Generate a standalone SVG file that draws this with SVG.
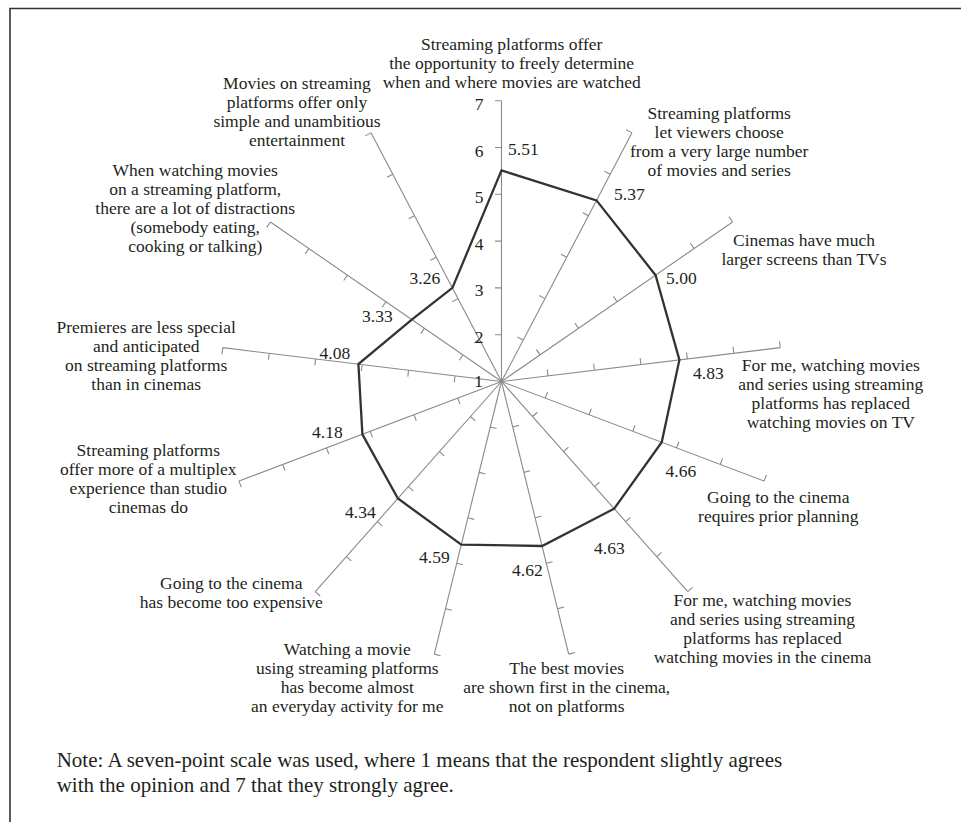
<svg xmlns="http://www.w3.org/2000/svg" xmlns:xlink="http://www.w3.org/1999/xlink" width="961" height="822" viewBox="0 0 961 822">
<style>
text{font-family:"Liberation Serif","Times New Roman",serif;fill:#231f20;}
.lab{font-size:17.5px;text-anchor:middle;}
.val{font-size:17.5px;}
.num{font-size:17.5px;text-anchor:end;}
.note{font-size:21px;}
.ax{fill:none;stroke:#8a8a8a;stroke-width:1.1;}
.ser{fill:none;stroke:#333;stroke-width:2.3;stroke-linejoin:miter;}
.frame{stroke:#333;stroke-width:1.6;fill:none;}
</style>
<defs>
<path id="axis" class="ax" d="M501.5 381.5V100.7M501.5 334.7H495M501.5 287.9H495M501.5 241.1H495M501.5 194.3H495M501.5 147.5H495M501.5 100.7H495"/>
</defs>
<rect width="961" height="822" fill="#fff"/>
<path class="frame" d="M10 822V8.5H961"/>

<g id="connectors">
<use xlink:href="#axis" href="#axis"/>
<use xlink:href="#axis" href="#axis" transform="rotate(27.692 501.5 381.5)"/>
<use xlink:href="#axis" href="#axis" transform="rotate(55.385 501.5 381.5)"/>
<use xlink:href="#axis" href="#axis" transform="rotate(83.077 501.5 381.5)"/>
<use xlink:href="#axis" href="#axis" transform="rotate(110.769 501.5 381.5)"/>
<use xlink:href="#axis" href="#axis" transform="rotate(138.462 501.5 381.5)"/>
<use xlink:href="#axis" href="#axis" transform="rotate(166.154 501.5 381.5)"/>
<use xlink:href="#axis" href="#axis" transform="rotate(193.846 501.5 381.5)"/>
<use xlink:href="#axis" href="#axis" transform="rotate(221.538 501.5 381.5)"/>
<use xlink:href="#axis" href="#axis" transform="rotate(249.231 501.5 381.5)"/>
<use xlink:href="#axis" href="#axis" transform="rotate(276.923 501.5 381.5)"/>
<use xlink:href="#axis" href="#axis" transform="rotate(304.615 501.5 381.5)"/>
<use xlink:href="#axis" href="#axis" transform="rotate(332.308 501.5 381.5)"/>
</g>

<g id="series">
<polygon class="ser" points="501.5,170.4 596.5,200.4 655.6,275.2 679.4,359.9 661.7,442.2 614.2,508.7 542.1,546.0 461.3,544.6 397.9,498.5 362.4,434.3 358.4,364.1 411.8,319.6 452.4,287.9"/>
</g>

<g id="scale">
<text class="num" x="483.5" y="110">7</text>
<text class="num" x="483.5" y="156.7">6</text>
<text class="num" x="483.5" y="203.3">5</text>
<text class="num" x="483.5" y="249.5">4</text>
<text class="num" x="483.5" y="296">3</text>
<text class="num" x="483.5" y="343.3">2</text>
<text class="num" x="483" y="387">1</text>
</g>

<g id="node-0">
<text class="lab" x="511.7" y="49.5"><tspan x="511.7">Streaming platforms offer</tspan><tspan x="511.7" dy="19">the opportunity to freely determine</tspan><tspan x="511.7" dy="19">when and where movies are watched</tspan></text>
<text class="val" x="508" y="155">5.51</text>
</g>
<g id="node-1">
<text class="lab" x="719.2" y="118.5"><tspan x="719.2">Streaming platforms</tspan><tspan x="719.2" dy="19">let viewers choose</tspan><tspan x="719.2" dy="19">from a very large number</tspan><tspan x="719.2" dy="19">of movies and series</tspan></text>
<text class="val" x="614" y="200">5.37</text>
</g>
<g id="node-2">
<text class="lab" x="804" y="246"><tspan x="804">Cinemas have much</tspan><tspan x="804" dy="19">larger screens than TVs</tspan></text>
<text class="val" x="666" y="284">5.00</text>
</g>
<g id="node-3">
<text class="lab" x="830.8" y="371"><tspan x="830.8">For me, watching movies</tspan><tspan x="830.8" dy="19">and series using streaming</tspan><tspan x="830.8" dy="19">platforms has replaced</tspan><tspan x="830.8" dy="19">watching movies on TV</tspan></text>
<text class="val" x="693" y="378.5">4.83</text>
</g>
<g id="node-4">
<text class="lab" x="778.3" y="503"><tspan x="778.3">Going to the cinema</tspan><tspan x="778.3" dy="19">requires prior planning</tspan></text>
<text class="val" x="665.5" y="477">4.66</text>
</g>
<g id="node-5">
<text class="lab" x="762.5" y="605.5"><tspan x="762.5">For me, watching movies</tspan><tspan x="762.5" dy="19">and series using streaming</tspan><tspan x="762.5" dy="19">platforms has replaced</tspan><tspan x="762.5" dy="19">watching movies in the cinema</tspan></text>
<text class="val" x="594" y="553.5">4.63</text>
</g>
<g id="node-6">
<text class="lab" x="566.7" y="674"><tspan x="566.7">The best movies</tspan><tspan x="566.7" dy="19">are shown first in the cinema,</tspan><tspan x="566.7" dy="19">not on platforms</tspan></text>
<text class="val" x="512" y="576">4.62</text>
</g>
<g id="node-7">
<text class="lab" x="347.3" y="655"><tspan x="347.3">Watching a movie</tspan><tspan x="347.3" dy="19">using streaming platforms</tspan><tspan x="347.3" dy="19">has become almost</tspan><tspan x="347.3" dy="19">an everyday activity for me</tspan></text>
<text class="val" x="419" y="563">4.59</text>
</g>
<g id="node-8">
<text class="lab" x="231.3" y="588.5"><tspan x="231.3">Going to the cinema</tspan><tspan x="231.3" dy="19">has become too expensive</tspan></text>
<text class="val" x="345" y="517.5">4.34</text>
</g>
<g id="node-9">
<text class="lab" x="148.3" y="456"><tspan x="148.3">Streaming platforms</tspan><tspan x="148.3" dy="19">offer more of a multiplex</tspan><tspan x="148.3" dy="19">experience than studio</tspan><tspan x="148.3" dy="19">cinemas do</tspan></text>
<text class="val" x="312" y="437.5">4.18</text>
</g>
<g id="node-10">
<text class="lab" x="146.2" y="333"><tspan x="146.2">Premieres are less special</tspan><tspan x="146.2" dy="19">and anticipated</tspan><tspan x="146.2" dy="19">on streaming platforms</tspan><tspan x="146.2" dy="19">than in cinemas</tspan></text>
<text class="val" x="319.5" y="359">4.08</text>
</g>
<g id="node-11">
<text class="lab" x="195.2" y="176"><tspan x="195.2">When watching movies</tspan><tspan x="195.2" dy="19">on a streaming platform,</tspan><tspan x="195.2" dy="19">there are a lot of distractions</tspan><tspan x="195.2" dy="19">(somebody eating,</tspan><tspan x="195.2" dy="19">cooking or talking)</tspan></text>
<text class="val" x="362" y="321.7">3.33</text>
</g>
<g id="node-12">
<text class="lab" x="297" y="88.5"><tspan x="297">Movies on streaming</tspan><tspan x="297" dy="19">platforms offer only</tspan><tspan x="297" dy="19">simple and unambitious</tspan><tspan x="297" dy="19">entertainment</tspan></text>
<text class="val" x="409.5" y="284.3">3.26</text>
</g>

<g id="note">
<text class="note" x="56.7" y="766.7">Note: A seven-point scale was used, where 1 means that the respondent slightly agrees</text>
<text class="note" x="56.7" y="791.7">with the opinion and 7 that they strongly agree.</text>
</g>
</svg>
